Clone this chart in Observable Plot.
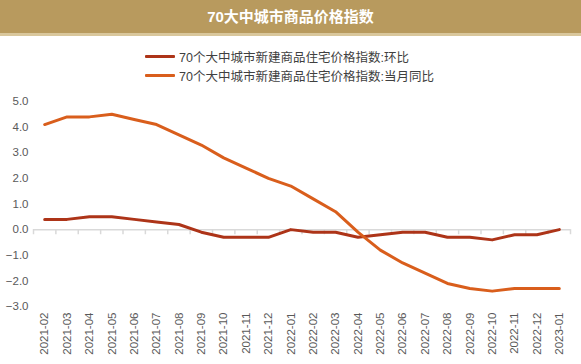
<!DOCTYPE html>
<html>
<head>
<meta charset="utf-8">
<script src="https://cdn.jsdelivr.net/npm/d3@7"></script>
<script src="https://cdn.jsdelivr.net/npm/@observablehq/plot@0.6"></script>
<style>
  html, body { margin: 0; padding: 0; background: #fff; }
  body { width: 581px; height: 364px; position: relative; overflow: hidden; font-family: "Liberation Sans", Arial, "Noto Sans CJK SC", sans-serif; }
  #title { position: absolute; left: 0; top: 0; width: 581px; height: 33px; background: #b89a5e; border-bottom: 3px solid #d9c79c; color: #fff; font-weight: bold; font-size: 15px; line-height: 33px; text-align: center; font-family: "Liberation Sans", Arial, "Noto Sans CJK SC", sans-serif; }
  #legend { position: absolute; left: 145px; top: 47px; font-size: 12.5px; color: #404040; font-family: "Liberation Sans", Arial, "Noto Sans CJK SC", sans-serif; }
  .item { display: flex; align-items: center; height: 19px; }
  .sw { width: 30px; height: 3px; margin-right: 4px; border-radius: 1px; }
  #chart { position: absolute; left: 0; top: 36px; }
</style>
</head>
<body>
<div id="title">70大中城市商品价格指数</div>
<div id="legend"></div>
<div id="chart"></div>
<script>
const months = ["2021-02","2021-03","2021-04","2021-05","2021-06","2021-07","2021-08","2021-09","2021-10","2021-11","2021-12","2022-01","2022-02","2022-03","2022-04","2022-05","2022-06","2022-07","2022-08","2022-09","2022-10","2022-11","2022-12","2023-01"];
const seriesNames = ["70个大中城市新建商品住宅价格指数:环比", "70个大中城市新建商品住宅价格指数:当月同比"];
const mom = [0.4,0.4,0.5,0.5,0.4,0.3,0.2,-0.1,-0.3,-0.3,-0.3,0.0,-0.1,-0.1,-0.3,-0.2,-0.1,-0.1,-0.3,-0.3,-0.4,-0.2,-0.2,0.0];
const yoy = [4.1,4.4,4.4,4.5,4.3,4.1,3.7,3.3,2.8,2.4,2.0,1.7,1.2,0.7,-0.1,-0.8,-1.3,-1.7,-2.1,-2.3,-2.4,-2.3,-2.3,-2.3];
const yTicks = [-3,-2,-1,0,1,2,3,4,5];
const colors = ["#ad3418", "#d95e1c"];

const data = [];
months.forEach((m, i) => {
  data.push({i, month: m, series: seriesNames[0], value: mom[i]});
  data.push({i, month: m, series: seriesNames[1], value: yoy[i]});
});
const idx = months.map((_, i) => i);
const boundaries = d3.range(months.length + 1).map(i => i - 0.5);

// legend
const legend = document.getElementById("legend");
seriesNames.forEach((name, k) => {
  const row = document.createElement("div");
  row.className = "item";
  const sw = document.createElement("div");
  sw.className = "sw";
  sw.style.background = colors[k];
  const tx = document.createElement("span");
  tx.textContent = name;
  row.appendChild(sw); row.appendChild(tx);
  legend.appendChild(row);
});

const chart = Plot.plot({
  width: 581,
  height: 328,
  marginLeft: 33,
  marginRight: 11,
  marginTop: 65,
  marginBottom: 58,
  style: {fontFamily: "'Liberation Sans', Arial, sans-serif", fontSize: "11px", color: "#595959", background: "transparent"},
  x: {type: "linear", domain: [-0.5, months.length - 0.5]},
  y: {domain: [-3, 5]},
  color: {domain: seriesNames, range: colors},
  marks: [
    Plot.axisY({ticks: yTicks, tickFormat: d3.format(".1f"), tickSize: 0, tickPadding: 5, label: null, fontSize: 11.5}),
    Plot.axisX({ticks: idx, tickFormat: i => months[i], tickRotate: -90, tickSize: 0, tickPadding: 6, label: null, fontSize: 11.5}),
    Plot.ruleY([0], {stroke: "#d9d9d9", strokeWidth: 1.5}),
    Plot.ruleX(boundaries, {x: d => d, y1: 0, y2: -0.2, stroke: "#d9d9d9", strokeWidth: 1.5}),
    Plot.line(data, {x: "i", y: "value", stroke: "series", z: "series", strokeWidth: 3, strokeLinejoin: "round", strokeLinecap: "round"})
  ]
});
document.getElementById("chart").appendChild(chart);
</script>
</body>
</html>
